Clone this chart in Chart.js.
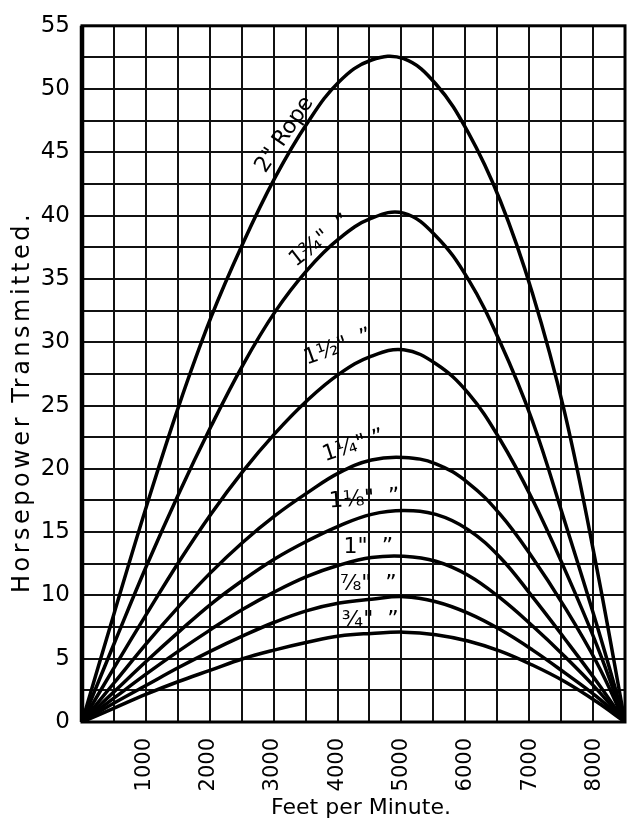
<!DOCTYPE html>
<html>
<head>
<meta charset="utf-8">
<script src="https://cdn.jsdelivr.net/npm/chart.js@4.4.1/dist/chart.umd.min.js"></script>
<style>
  html, body { margin: 0; padding: 0; background: #fff; overflow: hidden; }
  #wrap { width: 640px; height: 835px; }
</style>
</head>
<body>
<div id="wrap"><canvas id="ropeChart"></canvas></div>
<script>
// velocidad de la cuerda (pies por minuto)
const speeds = [0, 500, 1000, 1500, 2000, 2500, 3000, 3500, 4000, 4500, 5000, 5500, 6000, 6500, 7000, 7500, 8000, 8440];

// caballos transmitidos por cada diametro de cuerda
const rope2    = [0, 8.6, 17.0, 24.9, 31.9, 37.8, 43.0, 47.3, 50.6, 52.3, 52.4, 50.4, 46.6, 41.2, 33.9, 24.5, 12.2, 0];
const rope175  = [0, 6.2, 12.3, 18.0, 23.3, 28.2, 32.4, 35.7, 38.2, 39.8, 40.2, 38.4, 35.0, 30.0, 23.8, 15.9, 7.7, 0];
const rope15   = [0, 4.3, 8.5, 12.6, 16.4, 19.8, 22.8, 25.4, 27.5, 28.9, 29.4, 28.3, 26.0, 22.3, 17.6, 12.1, 6.1, 0];
const rope125  = [0, 3.1, 6.2, 9.1, 11.8, 14.2, 16.3, 18.1, 19.7, 20.7, 20.9, 20.4, 18.9, 16.4, 13.0, 9.1, 4.7, 0];
const rope1125 = [0, 2.4, 4.8, 7.1, 9.3, 11.2, 12.9, 14.3, 15.5, 16.4, 16.7, 16.4, 15.2, 13.0, 9.9, 6.6, 3.2, 0];
const rope1    = [0, 1.9, 3.8, 5.6, 7.3, 8.9, 10.3, 11.5, 12.4, 13.0, 13.1, 12.7, 11.6, 9.8, 7.6, 5.2, 2.6, 0];
const rope0875 = [0, 1.5, 2.9, 4.3, 5.6, 6.8, 7.9, 8.8, 9.4, 9.7, 9.9, 9.5, 8.6, 7.3, 5.7, 3.9, 2.0, 0];
const rope075  = [0, 1.1, 2.2, 3.2, 4.1, 5.0, 5.7, 6.3, 6.8, 7.0, 7.1, 6.9, 6.4, 5.6, 4.5, 3.2, 1.6, 0];

const ropeSeries = [rope2, rope175, rope15, rope125, rope1125, rope1, rope0875, rope075];
const ropeNames  = ['2" Rope', '1¾"  ”', '1½"  ”', '1¼" ”', '1⅛"  ”', '1"  ”', '⅞"  ”', '¾"  ”'];

// etiquetas del eje x
const xTickValues = [1000, 2000, 3000, 4000, 5000, 6000, 7000, 8000];

// rotulos junto a cada curva (en unidades del grafico)
const curveLabels = [
  { text: ropeNames[0], x: 3150, y: 46.4, angle: -56, size: 22 },
  { text: ropeNames[1], x: 3700, y: 38.0, angle: -38, size: 22 },
  { text: ropeNames[2], x: 3980, y: 29.6, angle: -20, size: 22 },
  { text: ropeNames[3], x: 4220, y: 21.8, angle: -18, size: 22 },
  { text: ropeNames[4], x: 4390, y: 17.6, angle: -4, size: 22 },
  { text: ropeNames[5], x: 4450, y: 13.8, angle: 0, size: 22 },
  { text: ropeNames[6], x: 4450, y: 10.9, angle: 0, size: 22 },
  { text: ropeNames[7], x: 4480, y: 8.0, angle: 0, size: 22 }
];

const xTitle = 'Feet per Minute.';
const yTitle = 'Horsepower Transmitted.';

const ropeDecor = {
  id: 'ropeDecor',
  afterDatasetsDraw(chart) {
    const { ctx, chartArea: a, scales: { x, y } } = chart;
    ctx.save();
    ctx.strokeStyle = '#000';
    ctx.lineWidth = 3;
    ctx.strokeRect(a.left, a.top, a.right - a.left, a.bottom - a.top);
    ctx.lineWidth = 4.5;
    ctx.beginPath();
    ctx.moveTo(a.left, a.top);
    ctx.lineTo(a.left, a.bottom);
    ctx.stroke();

    ctx.fillStyle = '#000';

    // rotulos de las curvas
    ctx.textAlign = 'center';
    ctx.textBaseline = 'middle';
    curveLabels.forEach(l => {
      ctx.save();
      ctx.font = l.size + 'px "DejaVu Sans"';
      ctx.translate(x.getPixelForValue(l.x), y.getPixelForValue(l.y));
      ctx.rotate(l.angle * Math.PI / 180);
      ctx.fillText(l.text, 0, 0);
      ctx.restore();
    });

    // etiquetas verticales del eje x
    ctx.font = '21px "DejaVu Sans"';
    ctx.textAlign = 'right';
    xTickValues.forEach(v => {
      ctx.save();
      ctx.translate(x.getPixelForValue(v) - 2, a.bottom + 16);
      ctx.rotate(-Math.PI / 2);
      ctx.fillText(String(v), 0, 0);
      ctx.restore();
    });

    // titulos de los ejes
    ctx.textAlign = 'center';
    ctx.font = '22px "DejaVu Sans"';
    ctx.fillText(xTitle, 361, 808);
    ctx.save();
    ctx.font = '24px "DejaVu Sans"';
    ctx.letterSpacing = '3.5px';
    ctx.translate(23, 402);
    ctx.rotate(-Math.PI / 2);
    ctx.fillText(yTitle, 0, 0);
    ctx.restore();
    ctx.restore();
  }
};

new Chart(document.getElementById('ropeChart'), {
  type: 'line',
  data: {
    datasets: ropeSeries.map((s, i) => ({
      label: ropeNames[i],
      data: s.map((v, j) => ({ x: speeds[j], y: v })),
      borderColor: '#000',
      borderWidth: 3.5,
      pointRadius: 0,
      tension: 0.4,
      fill: false
    }))
  },
  options: {
    responsive: true,
    maintainAspectRatio: false,
    animation: false,
    layout: { padding: { top: 17, right: 15, left: 0, bottom: 0 } },
    plugins: { legend: { display: false }, tooltip: { enabled: false } },
    scales: {
      x: {
        type: 'linear',
        min: 0,
        max: 8440,
        afterFit: s => { s.height = 113; s.paddingLeft = 0; s.paddingRight = 0; },
        grid: { color: '#111', lineWidth: 2, drawTicks: false },
        border: { display: false },
        ticks: { stepSize: 500, autoSkip: false, display: false }
      },
      y: {
        min: 0,
        max: 55,
        afterFit: s => { s.width = 82; },
        grid: { color: '#111', lineWidth: 2, drawTicks: false },
        border: { display: false },
        ticks: {
          stepSize: 2.5,
          autoSkip: false,
          padding: 12,
          color: '#000',
          font: { family: 'DejaVu Sans', size: 23 },
          callback: v => (v % 5 === 0) ? String(v) : ''
        }
      }
    }
  },
  plugins: [ropeDecor]
});
</script>
</body>
</html>
